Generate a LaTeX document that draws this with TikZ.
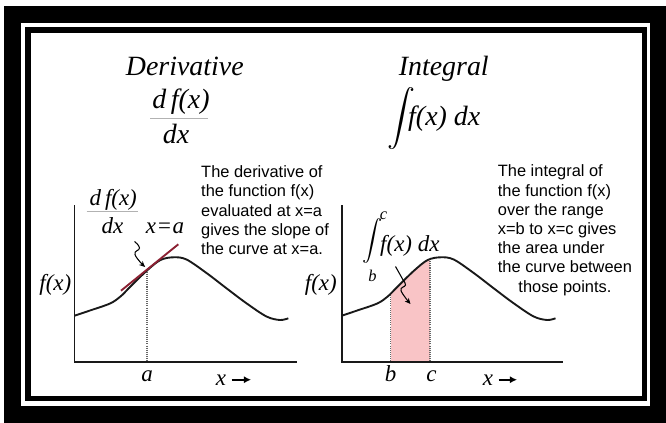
\documentclass[tikz,border=0pt]{standalone}
\usepackage{amsmath}
\usepackage{graphicx}
\usepackage[no-math]{fontspec}
\setmainfont{Liberation Serif}
\setsansfont{Liberation Sans}
\usepackage{tikz}
\usetikzlibrary{arrows.meta}
\definecolor{areapink}{RGB}{249,196,198}
\definecolor{tangentred}{RGB}{139,32,50}
\newcommand{\bellcurve}{plot[smooth, tension=0.55] coordinates {(0,315.7) (15.5,310.5) (35.5,303.5) (46,296.5) (56,286.5) (72.5,270.5) (86,260) (99,257.3) (112,259.5) (132,273) (152,288.3) (172,303.3) (192,316.5) (205.5,320) (213.8,318.3)}}
\newcommand{\intsign}[1]{\resizebox*{!}{#1}{$\displaystyle\int$}}

\begin{document}
\begin{tikzpicture}[x=0.03cm, y=-0.03cm,
title/.style={font=\itshape\fontsize{23.8}{28}\selectfont, inner sep=0pt},
mlabel/.style={font=\itshape\fontsize{19.6}{23}\selectfont, inner sep=0pt},
limit/.style={font=\itshape\fontsize{14}{16}\selectfont, inner sep=0pt},
note/.style={font=\sffamily\fontsize{14}{16.4}\selectfont, align=left, inner sep=0pt, anchor=north west},
axis/.style={line width=1.6pt, black!90},
curve/.style={line width=1.6pt, black!90},
tangent/.style={line width=1.6pt, tangentred},
dotline/.style={black!60, line width=0.9pt, dash pattern=on 0.9pt off 0.9pt},
fracbar/.style={black!30, line width=0.6pt},
squiggle/.style={-{Stealth[length=5pt,width=4.5pt]}, line width=0.9pt},
xarrow/.style={-{Latex[length=6pt,width=6pt]}, line width=2pt, shorten <=4.5pt}
]
\useasboundingbox (0,0) rectangle (666,423);
% frame
\fill[black] (4,6) rectangle (666,423);
\fill[white] (21,23) rectangle (650,406);
\draw[line width=4.7pt] (28,30) rectangle (644.5,398.5);

% headings
\node[title, anchor=base] (dtitle) at (184.8,75.5) {Derivative};
\node[title, anchor=base] (ititle) at (443.8,75.5) {Integral};
\node[title, anchor=base] (dnum) at (181,108) {d\,f(x)};
\node[title, anchor=base] (dden) at (176,143.3) {dx};
\draw[fracbar] (150,118.3) -- (208,118.3);
\node[inner sep=0pt] (isign) at (401,118.5) {\intsign{53pt}};
\node[title, anchor=base west] (iexpr) at (408,126) {f(x) dx};

% left graph: derivative
\begin{scope}[shift={(74.5,0)}]
\begin{scope}
\clip \bellcurve -- (213.8,362) -- (0,362) -- cycle;
\draw[dotline] (72.5,200) -- (72.5,362);
\end{scope}
\draw[curve] \bellcurve;
\draw[axis] (0,205) -- (0,362) -- (222.5,362);
\end{scope}
\draw[tangent] (121,290.7) -- (178.3,244.3);
\coordinate (tanpt) at (145,267);

\node[mlabel, anchor=base east] (fxL) at (71.5,290) {f(x)};
\node[mlabel, anchor=base] (lnum) at (113.3,205) {d\,f(x)};
\node[mlabel, anchor=base] (lden) at (112.5,233.3) {dx};
\draw[fracbar] (86.7,211.7) -- (138.3,211.7);
\node[mlabel, anchor=base] (xeqa) at (165,233.3) {x\hspace{0.5pt}=\hspace{0.5pt}a};
\node[mlabel, anchor=base] (alab) at (147,381.5) {a};
\node[mlabel, anchor=base] (xlabL) at (221,385) {x};
\coordinate (xtipL) at (251,381);
\draw[xarrow] (xlabL.east) -- (xlabL.east -| xtipL);

\coordinate (sqLa) at (134.5,241.5);
\coordinate (sqLb) at (139.5,248);
\coordinate (sqLc) at (135,254.5);
\draw[squiggle] plot[smooth, tension=0.8] coordinates {(sqLa) (sqLb) (sqLc) (tanpt)};

\node[note] (dnote) at (201,165.5) {The derivative of\\the function f(x)\\evaluated at x=a\\gives the slope of\\the curve at x=a.};

% right graph: integral
\begin{scope}[shift={(341.7,0)}]
\begin{scope}
\clip \bellcurve -- (213.8,362) -- (0,362) -- cycle;
\fill[areapink] (49,200) rectangle (88.3,362);
\draw[dotline] (49,200) -- (49,362);
\draw[dotline] (88.3,200) -- (88.3,362);
\end{scope}
\draw[curve] \bellcurve;
\draw[axis] (0,205) -- (0,362) -- (221.6,362);
\end{scope}

\node[mlabel, anchor=base east] (fxR) at (337,290) {f(x)};
\node[inner sep=0pt] (lsign) at (372.5,240.5) {\intsign{38.3pt}};
\node[limit] (ulim) at (383.5,216) {c};
\node[limit] (llim) at (372.5,275.5) {b};
\node[mlabel, anchor=base west] (intlab) at (380,251) {f(x) dx};
\node[mlabel, anchor=base] (blab) at (390.7,381.5) {b};
\node[mlabel, anchor=base] (clab) at (431.5,381.5) {c};
\node[mlabel, anchor=base] (xlabR) at (488,385) {x};
\coordinate (xtipR) at (517,381);
\draw[xarrow] (xlabR.east) -- (xlabR.east -| xtipR);

\coordinate (sqRa) at (395.5,266.5);
\coordinate (sqRb) at (402.5,279);
\coordinate (sqRc) at (405.5,285);
\coordinate (sqRd) at (401,290.5);
\coordinate (sqRe) at (410.5,304);
\draw[squiggle] plot[smooth, tension=0.7] coordinates {(sqRa) (sqRb) (sqRc) (sqRd) (sqRe)};

\node[note] (inote) at (497.7,163.2) {\begin{tabular}{@{}l@{}}
The integral of\\the function f(x)\\over the range\\x=b to x=c gives\\the area under\\the curve between\\
\multicolumn{1}{@{}c@{}}{those points.}
\end{tabular}};
\end{tikzpicture}
\end{document}
